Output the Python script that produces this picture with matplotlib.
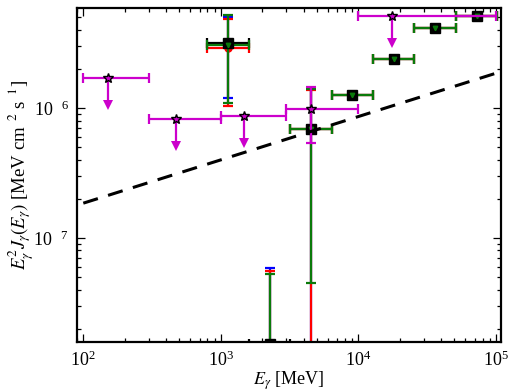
import numpy as np
import matplotlib
matplotlib.use("Agg")
import matplotlib.pyplot as plt
from matplotlib.ticker import FuncFormatter, LogLocator

plt.rcParams['font.family'] = ['Liberation Serif', 'DejaVu Serif']
plt.rcParams['mathtext.fontset'] = 'stix'

# ---------------- data ----------------
# magenta: upper limits (and one measurement)
mag_E = [150, 470, 1480, 4530, 17600]
mag_Elo = [100, 300, 1000, 3000, 10000]
mag_Ehi = [300, 1000, 3000, 10000, 100000]
mag_F = [1.70e-6, 8.2e-7, 8.7e-7, 9.8e-7, 5.07e-6]
mag_ul = [True, True, True, False, True]
mag_Flo = [None, None, None, 5.4e-7, None]
mag_Fhi = [None, None, None, 1.45e-6, None]
ul_factor = 0.62

# binned spectra (three analyses)
bin_lo = [800, 1600, 3200, 6400, 12800, 25600, 51200]
bin_hi = [1600, 3200, 6400, 12800, 25600, 51200, 102400]

blk_F = [3.15e-6, 1.52e-8, 6.9e-7, 1.26e-6, 2.37e-6, 4.15e-6, 5.13e-6]
blk_Fhi = [5.0e-6, 5.9e-8, 1.43e-6, 1.32e-6, 2.47e-6, 4.3e-6, 5.3e-6]
blk_Flo = [1.2e-6, 1e-10, 1e-10, 1.20e-6, 2.27e-6, 4.0e-6, 4.95e-6]

grn_F = [3.05e-6, 1.0e-8, 6.9e-7, 1.26e-6, 2.37e-6, 4.15e-6, 5.13e-6]
grn_Fhi = [5.19e-6, 5.26e-8, 1.40e-6, 1.32e-6, 2.47e-6, 4.3e-6, 5.3e-6]
grn_Flo = [1.1e-6, 1e-10, 4.5e-8, 1.20e-6, 2.27e-6, 4.0e-6, 4.95e-6]

red_F = [2.9e-6, 1.0e-8, 6.9e-7, 1.26e-6, 2.37e-6, 4.15e-6, 5.13e-6]
red_Fhi = [4.8e-6, 5.57e-8, 1.37e-6, 1.32e-6, 2.47e-6, 4.3e-6, 5.3e-6]
red_Flo = [1.04e-6, 1e-10, 1e-10, 1.20e-6, 2.27e-6, 4.0e-6, 4.95e-6]

# model line
line_E = [100, 1e5]
line_F = [1.85e-7, 1.85e-6]

MAG = '#cc00cc'
GRN = '#0a7a0a'

# ---------------- plot ----------------
fig = plt.figure(figsize=(5.1, 3.92), dpi=100)
ax = fig.add_axes([77/510, 1-342/392, 424/510, 334/392])
ax.set_xscale('log')
ax.set_yscale('log')

bin_lo_a = np.array(bin_lo, float)
bin_hi_a = np.array(bin_hi, float)
Ec = np.sqrt(bin_lo_a * bin_hi_a)
xerr = [Ec - bin_lo_a, bin_hi_a - Ec]

def yerr_of(F, lo, hi):
    F = np.array(F); lo = np.array(lo); hi = np.array(hi)
    return [F - lo, hi - F]

cs = 3.8
lw = 1.6
# blue vertical errors
ax.errorbar(Ec, blk_F, yerr=yerr_of(blk_F, blk_Flo, blk_Fhi), fmt='none',
            ecolor='#0000ff', elinewidth=lw, capsize=cs, capthick=lw, zorder=2)
# red series
ax.errorbar(Ec, red_F, xerr=xerr, yerr=yerr_of(red_F, red_Flo, red_Fhi),
            fmt='o', color='#ff0000', ms=5, mec='#ff0000', ecolor='#ff0000',
            elinewidth=lw, capsize=cs, capthick=lw, zorder=2.5)
# black horizontal errors
ax.errorbar(Ec, blk_F, xerr=xerr, fmt='none',
            ecolor='black', elinewidth=lw, capsize=cs, capthick=lw, zorder=3)
# green series
ax.errorbar(Ec, grn_F, xerr=xerr, yerr=yerr_of(grn_F, grn_Flo, grn_Fhi),
            fmt='none', ecolor=GRN, elinewidth=lw, capsize=cs, capthick=lw, zorder=3.5)
# black squares with green triangles inside
ax.plot(Ec, blk_F, 's', color='black', ms=6.5, zorder=4)
ax.plot(Ec, grn_F, 'v', color=GRN, ms=3.2, zorder=4.5)

# magenta
for E, lo, hi, F, ul, flo, fhi in zip(mag_E, mag_Elo, mag_Ehi, mag_F, mag_ul, mag_Flo, mag_Fhi):
    xe = [[E - lo], [hi - E]]
    ax.errorbar([E], [F], xerr=xe, fmt='none', ecolor=MAG, elinewidth=lw,
                capsize=cs, capthick=lw, zorder=5)
    if ul:
        ax.plot([E, E], [F, F * ul_factor], color=MAG, lw=lw, zorder=5)
        ax.plot([E], [F * ul_factor], marker='v', color=MAG, ms=6.5, mew=0, zorder=5)
    else:
        ax.errorbar([E], [F], yerr=[[F - flo], [fhi - F]], fmt='none', ecolor=MAG,
                    elinewidth=lw, capsize=cs, capthick=lw, zorder=5)
    ax.plot([E], [F], marker='*', color=MAG, mec='black', mew=1.0, ms=7, zorder=6)

ax.plot(line_E, line_F, color='black', lw=2.2, ls=(0, (5, 3.5)), zorder=7)

ax.set_xlim(90, 1.09e5)
ax.set_ylim(1.58e-8, 5.88e-6)

for s in ax.spines.values():
    s.set_linewidth(1.6)
ax.tick_params(which='both', direction='in', top=True, right=True, width=0.9)
ax.tick_params(which='major', length=5.5, labelsize=13, pad=6)
ax.tick_params(which='minor', length=3)
ax.yaxis.set_major_locator(LogLocator(base=10, numticks=10))
ax.yaxis.set_minor_locator(LogLocator(base=10, subs=np.arange(2, 10), numticks=20))
ax.xaxis.set_minor_locator(LogLocator(base=10, subs=np.arange(2, 10), numticks=20))

ax.xaxis.set_major_formatter(FuncFormatter(lambda v, p: r"$\mathdefault{10^{%d}}$" % round(np.log10(v))))
ax.yaxis.set_major_formatter(FuncFormatter(lambda v, p: r"$\mathdefault{10^{\ \ \ %d}}$" % abs(round(np.log10(v)))))

ax.set_xlabel(r"$E_\gamma$ [MeV]", fontsize=13, labelpad=0)
ax.set_ylabel(r"$E_\gamma^2 J_\gamma(E_\gamma)$ [MeV cm$^{\ \ 2}$ s$^{\ \ 1}$]", fontsize=13.5, labelpad=-2)

fig.savefig("out.png", dpi=100)
